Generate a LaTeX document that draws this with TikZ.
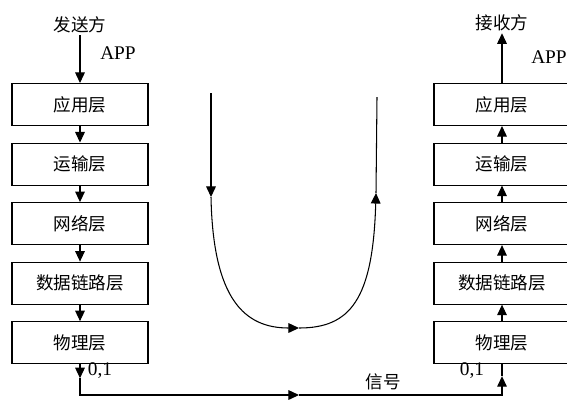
\documentclass[tikz,border=0pt]{standalone}
\usepackage{fontspec}
\setmainfont{Liberation Serif}
\newfontfamily\cjk{Noto Sans CJK SC}
\usetikzlibrary{arrows.meta,positioning,calc}
\tikzset{
  layer/.style={draw,line width=0.6pt,minimum width=2.72cm,minimum height=0.84cm,inner sep=0pt,font=\cjk\fontsize{10}{12}\selectfont},
  ar/.style={-{Triangle[length=6pt,width=5.5pt]},line width=0.6pt},
  ln/.style={line width=0.6pt},
  lbl/.style={font=\fontsize{11}{13}\selectfont,inner sep=1pt},
  clbl/.style={lbl,font=\cjk\fontsize{10}{12}\selectfont},
}
\begin{document}
\begin{tikzpicture}[x=0.02cm,y=-0.02cm,node distance=0.33cm]
\useasboundingbox (0,0) rectangle (567,400);
% sender stack
\node[layer] (app1) at (80,104.5) {应用层};
\node[layer,below=of app1] (tra1) {运输层};
\node[layer,below=of tra1] (net1) {网络层};
\node[layer,below=of net1] (dlk1) {数据链路层};
\node[layer,below=of dlk1] (phy1) {物理层};
\draw[ar](app1)--(tra1); \draw[ar](tra1)--(net1); \draw[ar](net1)--(dlk1); \draw[ar](dlk1)--(phy1);
% receiver stack
\node[layer] (app2) at (502,104.5) {应用层};
\node[layer,below=of app2] (tra2) {运输层};
\node[layer,below=of tra2] (net2) {网络层};
\node[layer,below=of net2] (dlk2) {数据链路层};
\node[layer,below=of dlk2] (phy2) {物理层};
\draw[ar](phy2)--(dlk2); \draw[ar](dlk2)--(net2); \draw[ar](net2)--(tra2); \draw[ar](tra2)--(app2);
% top labels
\node[clbl] (snd) at (80,25) {发送方};
\node[clbl] (rcv) at (502,23) {接收方};
\node[lbl] (appl) at (118,53) {APP};
\node[lbl] (appr) at (549,57) {APP};
\draw[ar](snd)--(app1); \draw[ar](app2)--(rcv);
% signal line
\coordinate (d1) at ($(phy1.south)+(0,14)$);
\coordinate (m1) at (299,395);
\coordinate (u2) at ($(phy2.south)+(0,12)$);
\draw[ar](phy1.south)--(d1);
\draw[ar](d1)|-(m1);
\draw[ar](m1)-|(u2);
\draw[ln](u2)--(phy2.south);
\node[lbl] (b1) at (100,371) {0,1};
\node[lbl] (b2) at (472,371) {0,1};
\node[clbl] (sig) at (383,382) {信号};
% U-shaped path
\coordinate (ut1) at (211,93);
\coordinate (ua1) at (211,197);
\coordinate (ub) at (299,328);
\coordinate (ua2) at (376,193);
\coordinate (ut2) at (377,97);
\draw[ar](ut1)--(ua1);
\draw[ar](ua1) .. controls (213,300) and (245,328) .. (ub);
\draw[ar](ub) .. controls (350,328) and (373,300) .. (ua2);
\draw[ln](ua2)--(ut2);
\end{tikzpicture}
\end{document}
